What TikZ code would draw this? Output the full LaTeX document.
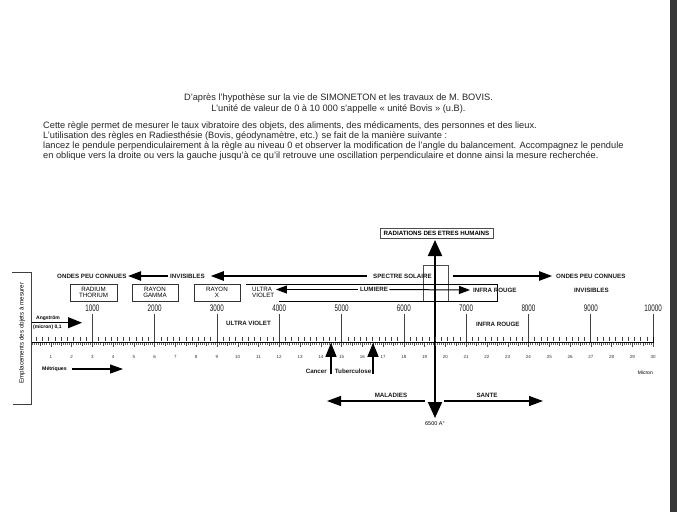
\documentclass[tikz,border=0pt]{standalone}
\usepackage{fontspec}
\setmainfont{Liberation Sans}
\usetikzlibrary{arrows.meta}
\begin{document}
\begin{tikzpicture}[x=1pt,y=-1pt,
  lab/.style={font=\fontsize{6.2}{7}\selectfont\bfseries, inner sep=0pt, text=black!90},
  boxtxt/.style={font=\fontsize{6.2}{6.6}\selectfont, align=center, draw=black!80, line width=0.6pt, minimum height=17pt, inner sep=0pt},
  para/.style={font=\fontsize{9.25}{11}\selectfont, inner sep=0pt, anchor=base west, text=black!85},
  parac/.style={font=\fontsize{9.25}{11}\selectfont, inner sep=0pt, anchor=base, text=black!85},
  bignum/.style={font=\fontsize{9.5}{10}\selectfont, inner sep=0pt, text=black!90},
  smallnum/.style={font=\fontsize{4.5}{5}\selectfont, inner sep=0pt, text=black!80},
  arr/.style={-{Triangle[length=13pt,width=9.5pt]}, line width=1.1pt},
  arrsm/.style={-{Triangle[length=11pt,width=8pt]}, line width=1pt},
  arrup/.style={-{Triangle[length=14pt,width=11pt]}, line width=1.2pt},
  bigarr/.style={{Triangle[length=16pt,width=14pt]}-{Triangle[length=16pt,width=14pt]}, line width=2pt},
  minortick/.style={line width=0.5pt, black!75},
  majline/.style={line width=0.6pt, black!75},
  thinbox/.style={draw=black!70, line width=0.5pt}
]
\useasboundingbox (0,0) rectangle (677,512);
\fill[white] (0,0) rectangle (677,512);
\fill[black!78] (669.5,0) rectangle (677,512);

% ---- top text
\node[parac] (t1) at (338.5,100) {D'après l'hypothèse sur la vie de SIMONETON et les travaux de M. BOVIS.};
\node[parac] (t2) at (338.5,111.7) {L'unité de valeur de 0 à 10 000 s'appelle «~unité Bovis~» (u.B).};
\node[para] (t3) at (43,128.3) {Cette règle permet de mesurer le taux vibratoire des objets, des aliments, des médicaments, des personnes et des lieux.};
\node[para] (t4) at (43,138.3) {L'utilisation des règles en Radiesthésie (Bovis, géodynamètre, etc.) se fait de la manière suivante :};
\node[para] (t5) at (43,148.3) {lancez le pendule perpendiculairement à la règle au niveau 0 et observer la modification de l'angle du balancement. Accompagnez le pendule};
\node[para] (t6) at (43,158.3) {en oblique vers la droite ou vers la gauche jusqu'à ce qu'il retrouve une oscillation perpendiculaire et donne ainsi la mesure recherchée.};

% ---- radiations box and vertical arrow
\node[thinbox, font=\fontsize{6.2}{7}\selectfont\bfseries, minimum width=113pt, minimum height=10.5pt, inner sep=0pt] (hum) at (436.5,233.3) {RADIATIONS DES ETRES HUMAINS};
\node[font=\fontsize{5.5}{6}\selectfont, anchor=north, inner sep=0pt] (a65) at (435,421.5) {6500 A°};
\coordinate (vtop) at (435,240);
\coordinate (vbot) at (435,418);

% ---- solar box
\node[thinbox, minimum width=25pt, minimum height=36pt, inner sep=0pt] (sol) at (435.5,283) {};

% ---- row 1
\node[lab, anchor=west] (ondesL) at (57,276) {ONDES PEU CONNUES};
\node[lab, anchor=west] (invL) at (170,276) {INVISIBLES};
\node[lab, anchor=west] (spectre) at (373,276) {SPECTRE SOLAIRE};
\node[lab, anchor=west] (ondesR) at (556,276) {ONDES PEU CONNUES};
\draw[arr] ([xshift=-2pt]invL.west) -- ([xshift=1.5pt]ondesL.east);
\draw[arr] ([xshift=-6pt]spectre.west) -- ([xshift=6pt]invL.east);
\coordinate (solR) at (452.5,276);
\draw[arr] (solR) -- ([xshift=-4pt]ondesR.west);

% ---- boxes
\node[boxtxt, minimum width=47pt] (radium) at (93.5,292.5) {RADIUM\\THORIUM};
\node[boxtxt, minimum width=46pt] (gamma) at (155,292.5) {RAYON\\GAMMA};
\node[boxtxt, minimum width=46pt] (rayx) at (217,292.5) {RAYON\\X};

% ---- lumiere band
\draw[line width=0.7pt] (246,284.5) -- (497,284.5) -- (497,301) -- (279,301);
\node[font=\fontsize{6.2}{6.7}\selectfont, align=left, inner sep=0pt, anchor=north west] (uv) at (252,286.8) {ULTRA\\VIOLET};
\node[lab, anchor=west] (lum) at (360,289.5) {LUMIERE};
\node[lab, anchor=west] (irU) at (473,290) {INFRA ROUGE};
\draw[arrsm] ([xshift=-2pt]lum.west) -- ([xshift=1.5pt]uv.east |- lum.west);
\draw[arrsm] ([xshift=1pt]lum.east) -- ([xshift=-3pt]irU.west);
\node[lab, anchor=west] (invR) at (574,290.7) {INVISIBLES};

% ---- vertical big arrow
\draw[bigarr] (vtop) -- (vbot);

% ---- ruler
\foreach \i in {1,...,10} {
  \pgfmathsetmacro\xx{30+62.31*\i}
  \draw[majline] (\xx,314) -- (\xx,342.5);
  \node[bignum] (n\i) at (\xx,308) {\scalebox{0.66}[1]{\the\numexpr\i*1000\relax}};
}
\foreach \k in {1,...,99} {
  \pgfmathtruncatemacro\r{mod(\k,10)}
  \ifnum\r=0\relax\else
    \draw[minortick] ({30+6.231*\k},336.5) -- ++(0,4.5);
  \fi
}
\foreach \k in {1,...,300} {
  \pgfmathtruncatemacro\r{mod(\k,10)}
  \pgfmathtruncatemacro\q{mod(\k,5)}
  \ifnum\r=0\relax
    \draw[line width=0.35pt, black!70] ({30+2.077*\k},342.5) -- ++(0,4.3);
  \else\ifnum\q=0\relax
    \draw[line width=0.35pt, black!70] ({30+2.077*\k},342.5) -- ++(0,3.4);
  \else
    \draw[line width=0.3pt, black!60] ({30+2.077*\k},342.5) -- ++(0,2.5);
  \fi\fi
}
\draw[line width=0.9pt] (31,342.5) -- (653,342.5);
\draw[line width=0.6pt] (653,342.5) -- (653,337);
\foreach \i in {1,...,30} {
  \node[smallnum] (m\i) at ({30+20.77*\i},357) {\i};
}

\node[lab, anchor=west] (uvL) at (226,323) {ULTRA VIOLET};
\node[lab, anchor=west] (irL) at (476,324) {INFRA ROUGE};

% ---- angstrom / metriques
\node[font=\fontsize{5}{5.8}\selectfont\bfseries, anchor=west, inner sep=0pt] (ang) at (36,318.5) {Angström};
\node[font=\fontsize{5}{5.8}\selectfont\bfseries, anchor=west, inner sep=0pt] (mic) at (33,327) {(micron) 0,1};
\coordinate (angS) at (31,322.7);
\coordinate (angE) at (82,322.7);
\draw[-{Triangle[length=14pt,width=11pt]}, line width=1pt] (angS) -- (angE);

\node[font=\fontsize{5.2}{6}\selectfont\bfseries, anchor=west, inner sep=0pt] (metr) at (42,369) {Métriques};
\coordinate (metrE) at (123,369);
\draw[-{Triangle[length=13pt,width=9pt]}, line width=1.1pt] ([xshift=5pt]metr.east) -- (metrE);
\node[font=\fontsize{5}{6}\selectfont, anchor=east, inner sep=0pt] (micron) at (653,373) {Micron};

% ---- bracket
\draw[line width=0.6pt, black!75] (12,272) -- (31,272) -- (31,404) -- (13,404);
\node[font=\fontsize{6.2}{7}\selectfont, rotate=90, inner sep=0pt] (empl) at (22,333) {Emplacements des objets à mesurer};

% ---- cancer / tuberculose
\coordinate (cTop) at (331,342.8);
\coordinate (cBot) at (331,374);
\coordinate (tTop) at (373,342.8);
\coordinate (tBot) at (373,374);
\draw[arrup] (cBot) -- (cTop);
\draw[arrup] (tBot) -- (tTop);
\node[lab, anchor=east] (cancer) at (327,371) {Cancer};
\node[lab, anchor=east] (tub) at (371.5,371) {Tuberculose};

% ---- maladies / sante
\coordinate (mL0) at (425,401);
\coordinate (mL1) at (327,401);
\coordinate (sR0) at (444,401);
\coordinate (sR1) at (543,401);
\draw[-{Triangle[length=14pt,width=10pt]}, line width=1.1pt] (mL0) -- (mL1);
\draw[-{Triangle[length=14pt,width=10pt]}, line width=1.1pt] (sR0) -- (sR1);
\node[lab] (mal) at (391,395.5) {MALADIES};
\node[lab] (sante) at (487,395.5) {SANTE};
\end{tikzpicture}
\end{document}
